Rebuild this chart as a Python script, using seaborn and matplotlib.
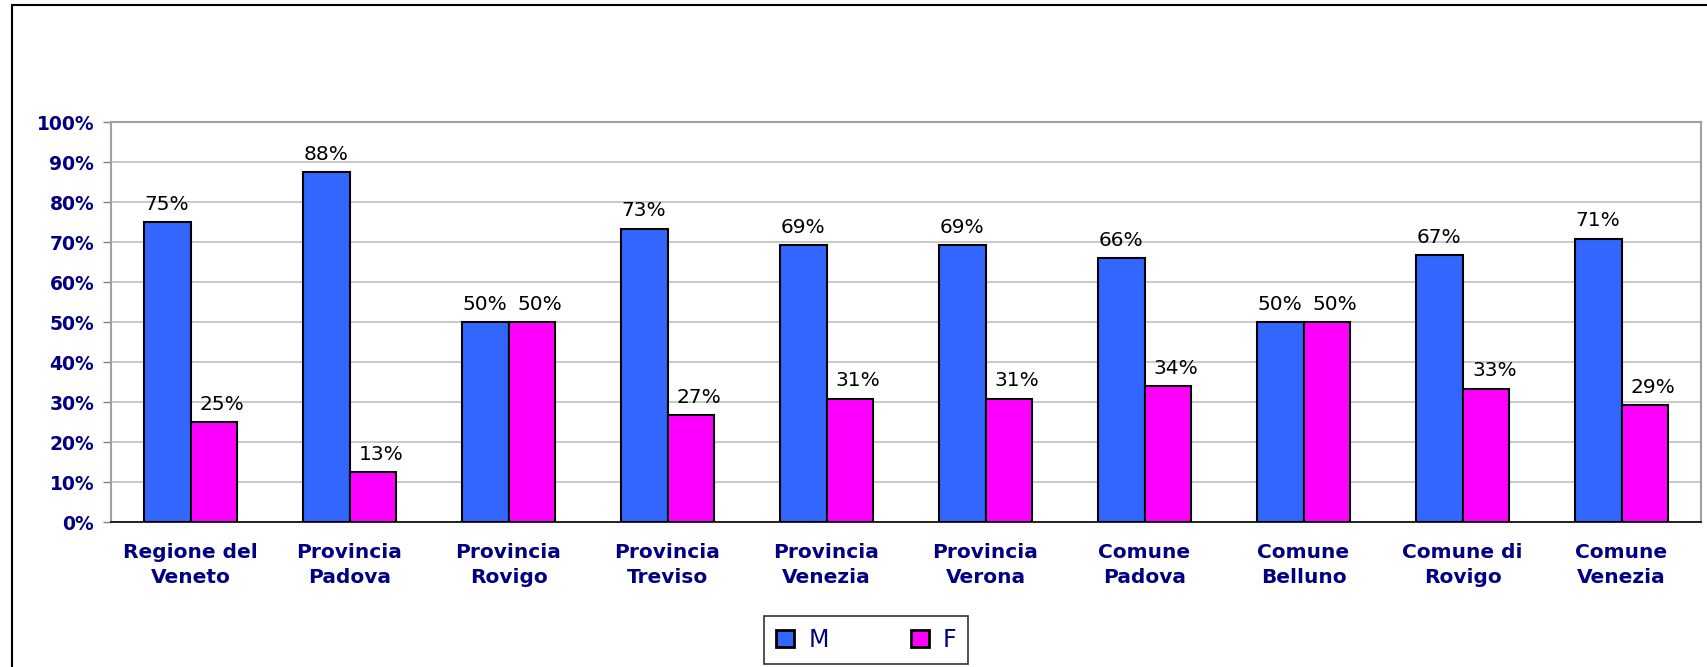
import numpy as np
import pandas as pd
import seaborn as sns
import matplotlib.pyplot as plt
from matplotlib.patches import Rectangle

# values (percent)
enti = ['Regione del\nVeneto', 'Provincia\nPadova', 'Provincia\nRovigo', 'Provincia\nTreviso',
        'Provincia\nVenezia', 'Provincia\nVerona', 'Comune\nPadova', 'Comune\nBelluno',
        'Comune di\nRovigo', 'Comune\nVenezia']
maschi = [75.0, 87.5, 50.0, 73.3, 69.2, 69.2, 66.0, 50.0, 66.7, 70.8]
femmine = [25.0, 12.5, 50.0, 26.7, 30.8, 30.8, 34.0, 50.0, 33.3, 29.2]
sessi = ['M', 'F']

df = pd.DataFrame({
    'ente': enti * 2,
    'quota': maschi + femmine,
    'sesso': ['M'] * len(enti) + ['F'] * len(enti),
})

sns.set_style('white')
plt.rcParams['font.family'] = ['DejaVu Sans']

navy = '#000080'
fig = plt.figure(figsize=(17.07, 6.67), dpi=100)
ax = fig.add_axes([111 / 1707, 1 - 522 / 667, (1701 - 111) / 1707, (522 - 122) / 667])

sns.barplot(data=df, x='ente', y='quota', hue='sesso', hue_order=sessi,
            palette=['#3366FF', '#FF00FF'], width=0.59, gap=0, saturation=1,
            edgecolor='black', linewidth=1.5, ax=ax)

# data labels, rounded half up like the spreadsheet
for i, (cont, vals) in enumerate(zip(ax.containers, [maschi, femmine])):
    anns = ax.bar_label(cont, labels=[f"{int(np.floor(v + 0.5))}%" for v in vals],
                        padding=6, fontsize=14.5, color='black')
    if i == 1:
        for a in anns:
            a.xyann = (6, 6)

ax.set_ylim(0, 100)
ax.set_xlim(-0.5, len(enti) - 0.5)
ax.set_yticks(np.arange(0, 101, 10))
ax.set_yticklabels([f"{v}%" for v in range(0, 101, 10)], fontsize=13.5,
                   fontweight='bold', color=navy)
ax.set_xticks(range(len(enti)))
ax.set_xticklabels(enti, fontsize=14.5, fontweight='bold', color=navy)
for t in ax.get_xticklabels():
    t.set_linespacing(1.4)
ax.set_xticks(np.arange(-0.5, len(enti), 1), minor=True)
ax.tick_params(axis='x', which='major', length=0, pad=15)
ax.tick_params(axis='x', which='minor', length=6, width=1, color='black', direction='out')
ax.tick_params(axis='y', length=6, width=1, color='#808080', direction='out', pad=6, left=True)

ax.yaxis.grid(True, color='#C0C0C0', linewidth=1.2)
ax.set_axisbelow(True)
for side in ['top', 'right', 'left']:
    ax.spines[side].set_visible(True)
    ax.spines[side].set_color('#A0A0A0')
    ax.spines[side].set_linewidth(1.5)
ax.spines['bottom'].set_color('black')
ax.spines['bottom'].set_linewidth(1.2)
ax.set_xlabel('')
ax.set_ylabel('')

leg = ax.legend(loc='center', bbox_to_anchor=(866.5 / 1707, 27 / 667),
                bbox_transform=fig.transFigure, ncol=2, frameon=True, fancybox=False,
                fontsize=17, handlelength=0.75, handleheight=0.75, handletextpad=0.6,
                columnspacing=3.5, borderpad=0.5, title=None)
leg.get_frame().set_edgecolor('black')
leg.get_frame().set_linewidth(1.2)
for t in leg.get_texts():
    t.set_color(navy)
for h in leg.legend_handles:
    h.set_edgecolor('black')
    h.set_linewidth(2)

# outer chart frame
fig.patches.append(Rectangle((12 / 1707, -0.05), 1.2, 1.05 - 5 / 667,
                             transform=fig.transFigure, fill=False,
                             edgecolor='black', linewidth=1.5))

fig.savefig('out.png', dpi=100)
